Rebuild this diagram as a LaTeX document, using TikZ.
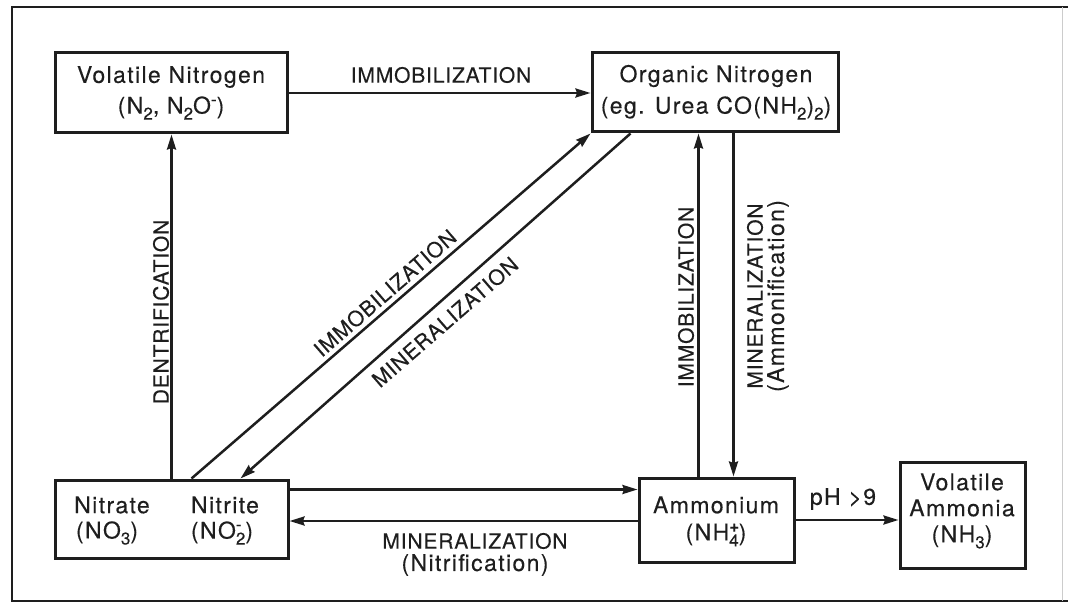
\documentclass[tikz,border=0pt]{standalone}
\usepackage{fontspec}
\setmainfont[LetterSpace=4,FakeBold=0.25]{TeX Gyre Heros}
\newfontfamily\widefont[LetterSpace=6,FakeBold=0.2]{TeX Gyre Heros}
\usetikzlibrary{arrows.meta,calc}
\definecolor{ink}{HTML}{1E1E1E}
\newcommand{\sbs}[1]{\raisebox{-0.5ex}{\fontsize{17}{17}\selectfont #1}}
\newcommand{\sps}[1]{\raisebox{0.7ex}{\fontsize{17}{17}\selectfont #1}}
\newcommand{\sbsp}[2]{\rlap{\sps{#1}}\sbs{#2}}
\tikzset{
  boxnode/.style={draw=ink,line width=3pt,inner sep=0pt},
  txt/.style={text=ink,font=\fontsize{21}{25}\selectfont,inner sep=1pt,align=center},
  btxt/.style={text=ink,font=\widefont\fontsize{23}{27}\selectfont,inner sep=1pt,align=center},
  arr/.style={draw=ink,line width=2.5pt,-{Stealth[length=15pt,width=9pt,inset=1.5pt]}},
}
\begin{document}
\begin{tikzpicture}[x=1pt,y=-1pt]
\useasboundingbox (0,0) rectangle (1068,604);
% frame
\draw[ink,line width=2.2pt] (1068,7) -- (12,7) -- (12,601) -- (1068,601);
\draw[black!20,line width=1pt] (1062,7) -- (1062,601);
% boxes
\node[boxnode,minimum width=232pt,minimum height=80pt] (vn) at (171,93) {};
\node[boxnode,minimum width=246pt,minimum height=79pt] (on) at (715,92.5) {};
\node[boxnode,minimum width=233pt,minimum height=78pt] (nn) at (171.5,519) {};
\node[boxnode,minimum width=155pt,minimum height=84pt] (am) at (716.5,520) {};
\node[boxnode,minimum width=125pt,minimum height=106pt] (va) at (962.5,515) {};
% box texts
\node[btxt] (vnt1) at (171,77) {Volatile Nitrogen};
\node[btxt] (vnt2) at (171,108) {(N\sbs{2}, N\sbs{2}O\sps{-})};
\node[btxt] (ont1) at (716,76) {Organic Nitrogen};
\node[btxt] (ont2) at (716,108) {(eg. Urea CO(NH\sbs{2})\sbs{2})};
\node[btxt] (nat1) at (112,505) {Nitrate};
\node[btxt] (nat2) at (107,533) {(NO\sbs{3})};
\node[btxt] (nit1) at (225,505) {Nitrite};
\node[btxt] (nit2) at (222,533) {(NO\sbsp{-}{2})};
\node[btxt] (amt1) at (716,505) {Ammonium};
\node[btxt] (amt2) at (716,535) {(NH\sbsp{\textbf{+}}{4})};
\node[btxt] (vat1) at (962,482) {Volatile};
\node[btxt] (vat2) at (962,508) {Ammonia};
\node[btxt] (vat3) at (962,537) {(NH\sbs{3})};
% connectors
\draw[arr] (vn.east) -- (vn.east -| on.west);
\draw[arr] ([xshift=118pt]nn.north west) -- ([xshift=118pt]vn.south west);
\draw[arr] ([xshift=138pt]nn.north west) -- (on.south west);
\draw[arr] ([xshift=40pt]on.south west) -- ([xshift=187pt]nn.north west);
\draw[arr] ([xshift=61pt]am.north west) -- ([xshift=108pt]on.south west);
\draw[arr] ([xshift=143pt]on.south west) -- ([xshift=96pt]am.north west);
\draw[arr] ([yshift=-11pt]nn.north east) -- ([yshift=-11pt]nn.north east -| am.west);
\draw[arr] ([yshift=-1pt]am.west) -- ([yshift=-1pt]am.west -| nn.east);
\draw[arr] (am.east) -- (am.east -| va.west);
% labels
\node[txt] (l1) at (441,75) {IMMOBILIZATION};
\node[txt,rotate=90] (l2) at (161,312) {DENTRIFICATION};
\node[txt,rotate=41] (l3) at (385,293) {IMMOBILIZATION};
\node[txt,rotate=41] (l4) at (445,322) {MINERALIZATION};
\node[txt,rotate=90] (l5) at (686,297) {IMMOBILIZATION};
\node[txt,rotate=90] (l6) at (755,296) {MINERALIZATION};
\node[btxt,rotate=90] (l7) at (778,296) {(Ammonification)};
\node[txt] (l8) at (475,541) {MINERALIZATION};
\node[btxt] (l9) at (475,565) {(Nitrification)};
\node[btxt] (l10) at (843,499) {pH >9};
\end{tikzpicture}
\end{document}
